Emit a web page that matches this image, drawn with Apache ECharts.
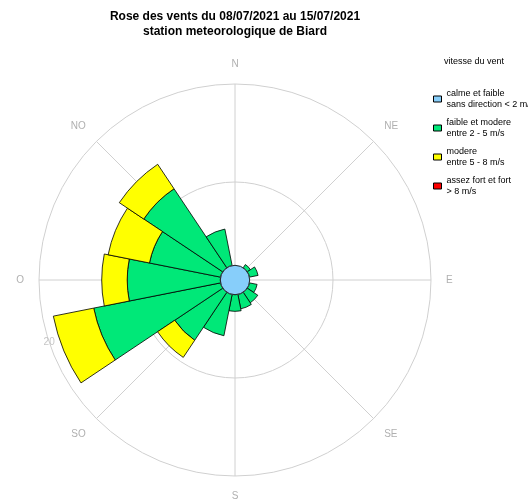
<!DOCTYPE html>
<html>
<head>
<meta charset="utf-8">
<script src="https://cdn.jsdelivr.net/npm/echarts@6/dist/echarts.min.js"></script>
<style>
  html, body { margin: 0; padding: 0; background: #fff; }
  #rose { width: 528px; height: 500px; }
</style>
</head>
<body>
<div id="rose"></div>
<script>
// secteurs de direction (16 x 22.5 deg), en partant du nord
const directions = ['N', 'NNE', 'NE', 'ENE', 'E', 'ESE', 'SE', 'SSE', 'S', 'SSW', 'SW', 'WSW', 'W', 'WNW', 'NW', 'NNW']
const compassLabels = { 0: 'N', 45: 'NE', 90: 'E', 135: 'SE', 180: 'S', 225: 'SO', 270: 'O', 315: 'NO', 360: 'N' }
const radiusTicks = [10, 20]

// frequences (%)
const calme = 1.5
const faibleModere = [0, 0, 0.4, 0.9, 0, 0.8, 1.3, 1.5, 1.7, 4.3, 5.9, 13.2, 9.5, 7.4, 9.7, 3.8]
const modere = [0, 0, 0, 0, 0, 0, 0, 0, 0, 0, 2.1, 4.2, 2.6, 4.3, 3.0, 0]
const fort = [0, 0, 0, 0, 0, 0, 0, 0, 0, 0, 0, 0, 0, 0, 0, 0]

const names = [
  'calme et faible\nsans direction < 2 m/s',
  'faible et modere\nentre 2 - 5 m/s',
  'modere\nentre 5 - 8 m/s',
  'assez fort et fort\n> 8 m/s'
]
const colors = ['#87CEFA', '#00E878', '#FFFF00', '#FF0000']

const chart = echarts.init(document.getElementById('rose'))
const center = [235, 280]
const radius = 196
const font = 'Liberation Sans, Arial, sans-serif'

const barSeries = (name, values, color) => ({
  name: name,
  type: 'bar',
  coordinateSystem: 'polar',
  polarIndex: 1,
  stack: 'vent',
  barCategoryGap: '0%',
  z: 3,
  itemStyle: { color: color, borderColor: '#000', borderWidth: 0.8 },
  data: values.map(v => (v > 0 ? v : '-'))
})

const option = {
  animation: false,
  textStyle: { fontFamily: font },
  title: [
    {
      text: 'Rose des vents du 08/07/2021 au 15/07/2021\nstation meteorologique de Biard',
      left: 230,
      top: 4,
      textAlign: 'center',
      textStyle: { fontFamily: font, fontSize: 12, fontWeight: 'bold', color: '#000', lineHeight: 15 }
    },
    {
      text: 'vitesse du vent',
      left: 439,
      top: 52,
      textStyle: { fontFamily: font, fontSize: 9, fontWeight: 'normal', color: '#000' }
    }
  ],
  legend: {
    orient: 'vertical',
    left: 428,
    top: 83,
    itemGap: 7,
    itemWidth: 8,
    itemHeight: 6,
    icon: 'rect',
    itemStyle: { borderColor: '#000', borderWidth: 1 },
    textStyle: { fontFamily: font, fontSize: 9, lineHeight: 11, color: '#000' },
    data: names
  },
  polar: [
    { center: center, radius: radius },
    { center: center, radius: radius }
  ],
  angleAxis: [
    {
      polarIndex: 0,
      type: 'value',
      min: 0,
      max: 360,
      interval: 45,
      startAngle: 90,
      clockwise: true,
      axisLine: { show: false },
      axisTick: { show: false },
      axisLabel: {
        margin: 15,
        color: '#b0b0b0',
        fontSize: 10,
        formatter: v => compassLabels[v]
      },
      splitLine: { lineStyle: { color: '#d0d0d0', width: 1 } }
    },
    {
      polarIndex: 1,
      type: 'category',
      data: directions,
      startAngle: 90 + 360 / directions.length / 2,
      clockwise: true,
      axisLine: { show: false },
      axisTick: { show: false },
      axisLabel: { show: false },
      splitLine: { show: false }
    }
  ],
  radiusAxis: [
    {
      polarIndex: 0,
      min: 0,
      max: 20,
      interval: 10,
      axisLine: { show: false },
      axisTick: { show: false },
      axisLabel: { show: false },
      splitLine: { lineStyle: { color: '#d0d0d0', width: 1 } }
    },
    {
      polarIndex: 1,
      min: 0,
      max: 20,
      axisLine: { show: false },
      axisTick: { show: false },
      axisLabel: { show: false },
      splitLine: { show: false }
    }
  ],
  series: [
    {
      // etiquettes des cercles
      type: 'scatter',
      coordinateSystem: 'polar',
      polarIndex: 0,
      symbolSize: 0,
      silent: true,
      z: 1,
      label: {
        show: true,
        position: 'inside',
        color: '#b8b8b8',
        fontSize: 10,
        formatter: p => String(p.value[0])
      },
      data: radiusTicks.map(r => [r, 251.5])
    },
    {
      name: 'base',
      type: 'bar',
      coordinateSystem: 'polar',
      polarIndex: 1,
      stack: 'vent',
      barCategoryGap: '0%',
      silent: true,
      itemStyle: { color: 'rgba(0,0,0,0)' },
      data: directions.map(() => calme)
    },
    barSeries(names[1], faibleModere, colors[1]),
    barSeries(names[2], modere, colors[2]),
    barSeries(names[3], fort, colors[3]),
    {
      name: names[0],
      type: 'custom',
      coordinateSystem: 'polar',
      polarIndex: 1,
      z: 5,
      itemStyle: { color: colors[0] },
      data: [[calme, 0]],
      renderItem: (params, api) => {
        const cs = params.coordSys
        const p = api.coord([api.value(0), api.value(1)])
        const r = Math.hypot(p[0] - cs.cx, p[1] - cs.cy)
        return {
          type: 'circle',
          shape: { cx: cs.cx, cy: cs.cy, r: r },
          style: { fill: colors[0], stroke: '#222', lineWidth: 1 }
        }
      }
    }
  ]
}

chart.setOption(option)
</script>
</body>
</html>
